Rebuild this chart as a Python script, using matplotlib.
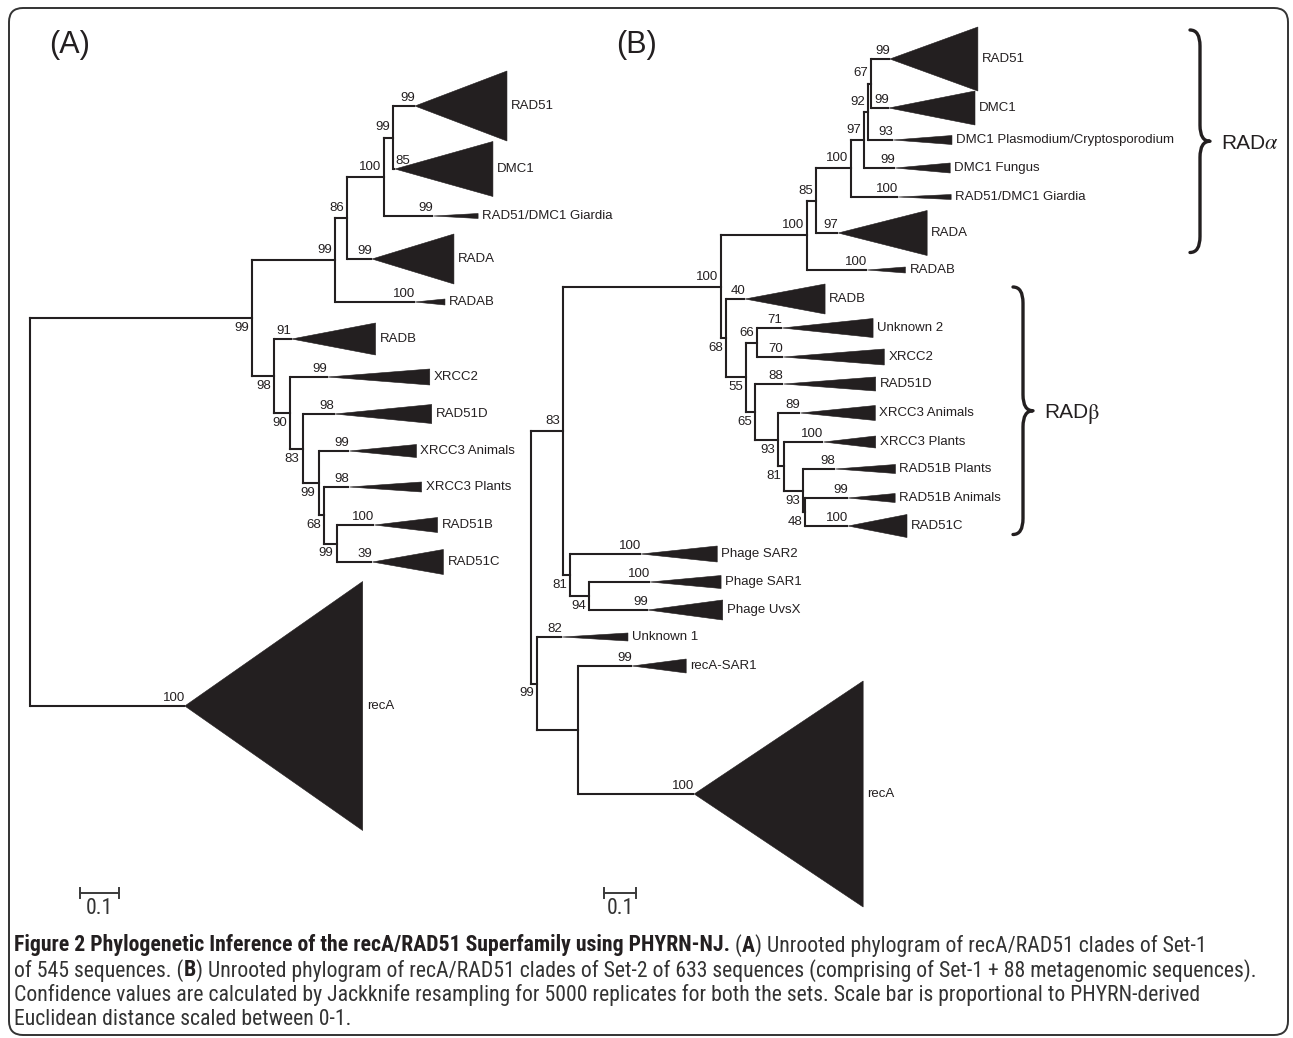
import matplotlib
matplotlib.use("Agg")
import matplotlib.pyplot as plt
from matplotlib.patches import Polygon, FancyBboxPatch, PathPatch
from matplotlib.path import Path
from matplotlib import font_manager

W, H, DPI = 1293, 1038, 100
INK = "#231f20"
TXT = "#333333"
TREE_FONT = "Liberation Sans"
FS = 9.5

# ---------------- Panel A data ----------------
A_node_id      = ["root", "n1", "n2", "n3", "n4", "n5", "n6", "n7", "n8", "n9", "n10", "n11"]
A_node_parent  = [None, "root", "n1", "n2", "n3", "n4", "n1", "n6", "n7", "n8", "n9", "n10"]
A_node_length  = [0.0, 0.569, 0.213, 0.031, 0.095, 0.023, 0.056, 0.041, 0.033, 0.041, 0.015, 0.031]
A_node_support = [None, 99, 99, 86, 100, 99, 98, 90, 83, 99, 68, 99]
A_node_side    = [None, "below", "above", "above", "above", "above",
                  "below", "below", "below", "below", "below", "below"]

A_leaf_name    = ["RAD51", "DMC1", "RAD51/DMC1 Giardia", "RADA", "RADAB", "RADB", "XRCC2",
                  "RAD51D", "XRCC3 Animals", "XRCC3 Plants", "RAD51B", "RAD51C", "recA"]
A_leaf_parent  = ["n5", "n5", "n4", "n3", "n2", "n6", "n7", "n8", "n9", "n10", "n11", "n11", "root"]
A_leaf_length  = [0.056, 0.005, 0.126, 0.064, 0.205, 0.046, 0.097, 0.082, 0.079, 0.064, 0.097, 0.092, 0.397]
A_leaf_support = [99, 85, 99, 99, 100, 91, 99, 98, 99, 98, 100, 39, 100]
A_clade_depth  = [0.236, 0.251, 0.115, 0.210, 0.077, 0.215, 0.262, 0.249, 0.172, 0.185, 0.162, 0.182, 0.456]
A_clade_spread = [35, 27.5, 2.5, 25, 3, 16, 8, 9.5, 6.5, 5, 7.5, 12.5, 124.5]
A_leaf_row     = [106, 169, 216, 259, 302, 339, 377, 414, 451, 487, 525, 562, 706]

# ---------------- Panel B data ----------------
B_node_id      = ["root", "p83", "prad", "pa100", "p85", "p100", "p97", "p92", "p67",
                  "pb68", "p55", "p66", "p65", "p93a", "p81", "p93b", "p48",
                  "pph81", "p94", "p99", "preca"]
B_node_parent  = [None, "root", "p83", "prad", "pa100", "p85", "p100", "p97", "p92",
                  "prad", "pb68", "p55", "p55", "p65", "p93a", "p81", "p93b",
                  "p83", "pph81", "root", "p99"]
B_node_length  = [0.0, 0.100, 0.494, 0.269, 0.028, 0.109, 0.041, 0.0125, 0.009,
                  0.016, 0.063, 0.034, 0.028, 0.072, 0.019, 0.059, 0.006,
                  0.022, 0.059, 0.019, 0.128]
B_node_support = [None, 83, 100, 100, 85, 100, 97, 92, 67,
                  68, 55, 66, 65, 93, 81, 93, 48,
                  81, 94, 99, None]
B_node_side    = [None, "above", "above", "above", "above", "above", "above", "above", "above",
                  "below", "below", "above", "below", "below", "below", "below", "below",
                  "below", "below", "below", None]

B_leaf_name    = ["RAD51", "DMC1", "DMC1 Plasmodium/Cryptosporodium", "DMC1 Fungus",
                  "RAD51/DMC1 Giardia", "RADA", "RADAB", "RADB", "Unknown 2", "XRCC2",
                  "RAD51D", "XRCC3 Animals", "XRCC3 Plants", "RAD51B Plants", "RAD51B Animals",
                  "RAD51C", "Phage SAR2", "Phage SAR1", "Phage UvsX", "Unknown 1", "recA-SAR1", "recA"]
B_leaf_parent  = ["p67", "p67", "p92", "p97", "p100", "p85", "pa100", "pb68", "p66", "p66",
                  "p65", "p93a", "p81", "p93b", "p48", "p48", "pph81", "p94", "p94", "p99",
                  "preca", "preca"]
B_leaf_length  = [0.059, 0.056, 0.078, 0.097, 0.147, 0.069, 0.188, 0.059, 0.078, 0.081,
                  0.088, 0.069, 0.122, 0.100, 0.134, 0.134, 0.222, 0.191, 0.184, 0.078,
                  0.169, 0.363]
B_leaf_support = [99, 99, 93, 99, 100, 97, 100, 40, 71, 70, 88, 89, 100, 98, 99, 100,
                  100, 100, 99, 82, 99, 100]
B_clade_depth  = [0.275, 0.269, 0.184, 0.172, 0.166, 0.278, 0.119, 0.250, 0.284, 0.316,
                  0.288, 0.234, 0.163, 0.188, 0.147, 0.184, 0.238, 0.222, 0.234, 0.206,
                  0.169, 0.528]
B_clade_spread = [32, 17, 4.5, 5, 2.5, 22.5, 3, 15, 9.5, 8, 7, 7.5, 6, 4.5, 4.5, 11.5,
                  8, 6.5, 10, 4, 7, 113]
B_leaf_row     = [59, 108, 140, 168, 197, 233, 270, 299, 328, 357, 384, 413, 442, 469,
                  498, 526, 554, 582, 610, 637, 666, 794]

# groups marked with braces in panel B
B_group_label = ["RAD", "RAD"]
B_group_greek = ["$\\alpha$", "$\\mathrm{\\beta}$"]
B_group_first = ["RAD51", "RADB"]
B_group_last  = ["RADA", "RAD51C"]

SCALE_BAR = 0.1

CAPTION = [
    [("Figure 2 Phylogenetic Inference of the recA/RAD51 Superfamily using PHYRN-NJ.", True),
     (" (", False), ("A", True),
     (") Unrooted phylogram of recA/RAD51 clades of Set-1", False)],
    [("of 545 sequences. (", False), ("B", True),
     (") Unrooted phylogram of recA/RAD51 clades of Set-2 of 633 sequences (comprising of Set-1 + 88 metagenomic sequences).", False)],
    [("Confidence values are calculated by Jackknife resampling for 5000 replicates for both the sets. Scale bar is proportional to PHYRN-derived", False)],
    [("Euclidean distance scaled between 0-1.", False)],
]

# ---------------- drawing ----------------
plt.rcParams["mathtext.fontset"] = "stix"
fig = plt.figure(figsize=(W / DPI, H / DPI), dpi=DPI)
fig.patch.set_facecolor("white")

ax0 = fig.add_axes([0, 0, 1, 1])
ax0.set_xlim(0, W)
ax0.set_ylim(H, 0)
ax0.set_axis_off()
renderer = fig.canvas.get_renderer()


def draw_panel(origin_px, scale_px, node_id, node_parent, node_length, node_support, node_side,
               leaf_name, leaf_parent, leaf_length, leaf_support, clade_depth, clade_spread,
               leaf_row, bar_px, bar_row):
    ax = fig.add_axes([0, 0, 1, 1])
    ax.set_xlim(-origin_px / scale_px, (W - origin_px) / scale_px)
    ax.set_ylim(H, 0)
    ax.set_axis_off()
    ax.patch.set_alpha(0)
    lw = 1.5
    xpos = {}
    for nid, par, ln in zip(node_id, node_parent, node_length):
        xpos[nid] = 0.0 if par is None else xpos[par] + ln
    kids = {nid: [] for nid in node_id}
    for par, row in zip(leaf_parent, leaf_row):
        kids[par].append(row)
    ypos = {}
    for nid in reversed(node_id):
        ys = kids[nid]
        ypos[nid] = (min(ys) + max(ys)) / 2.0
        par = node_parent[node_id.index(nid)]
        if par is not None:
            kids[par].append(ypos[nid])
    for nid, par in zip(node_id, node_parent):
        ys = kids[nid]
        ax.plot([xpos[nid]] * 2, [min(ys), max(ys)], color=INK, lw=lw,
                solid_capstyle="projecting")
        if par is not None:
            ax.plot([xpos[par], xpos[nid]], [ypos[nid]] * 2, color=INK, lw=lw,
                    solid_capstyle="projecting")
    for nid, sup, side in zip(node_id, node_support, node_side):
        if sup is None:
            continue
        dy = 10 if side == "above" else -10
        ax.annotate(str(sup), (xpos[nid], ypos[nid]), xytext=(-3, dy),
                    textcoords="offset pixels", ha="right", va="center",
                    fontsize=FS, family=TREE_FONT, color=INK)
    extent = {}
    for name, par, ln, sup, dep, spr, row in zip(leaf_name, leaf_parent, leaf_length,
                                                  leaf_support, clade_depth, clade_spread,
                                                  leaf_row):
        xa = xpos[par] + ln
        xt = xa + dep
        ax.plot([xpos[par], xa], [row, row], color=INK, lw=lw, solid_capstyle="butt")
        ax.add_patch(Polygon([(xa, row), (xt, row - spr), (xt, row + spr)], closed=True,
                             facecolor=INK, edgecolor=INK, lw=0.4))
        ax.annotate(name, (xt, row), xytext=(4, 0), textcoords="offset pixels",
                    ha="left", va="center", fontsize=FS, family=TREE_FONT, color=INK)
        if ln * scale_px >= 16:
            ax.annotate(str(sup), (xa, row), xytext=(0, 8), textcoords="offset pixels",
                        ha="right", va="center", fontsize=FS, family=TREE_FONT, color=INK)
        else:
            ax.annotate(str(sup), (xpos[par], row), xytext=(2, 8), textcoords="offset pixels",
                        ha="left", va="center", fontsize=FS, family=TREE_FONT, color=INK)
        extent[name] = (row - spr, row + spr)
    xb = (bar_px - origin_px) / scale_px
    ax.plot([xb, xb + SCALE_BAR], [bar_row, bar_row], color="#3a3a3a", lw=1.4)
    for xx in (xb, xb + SCALE_BAR):
        ax.plot([xx, xx], [bar_row - 5, bar_row + 5], color="#3a3a3a", lw=1.4)
    return ax, xb, extent


axA, xbA, extA = draw_panel(30, 390, A_node_id, A_node_parent, A_node_length, A_node_support,
                            A_node_side, A_leaf_name, A_leaf_parent, A_leaf_length,
                            A_leaf_support, A_clade_depth, A_clade_spread, A_leaf_row, 80, 893)
axB, xbB, extB = draw_panel(531, 320, B_node_id, B_node_parent, B_node_length, B_node_support,
                            B_node_side, B_leaf_name, B_leaf_parent, B_leaf_length,
                            B_leaf_support, B_clade_depth, B_clade_spread, B_leaf_row, 604, 893)

ax0.text(70, 45, "(A)", fontsize=22, ha="center", va="center", family=TREE_FONT, color=INK)
ax0.text(637, 45, "(B)", fontsize=22, ha="center", va="center", family=TREE_FONT, color=INK)


def brace(x, y0, y1):
    ym = (y0 + y1) / 2.0
    d, r = 10, 16
    verts = [(x, y0), (x + d, y0), (x + d, y0 + r),
             (x + d, ym - r),
             (x + d, ym), (x + 2 * d, ym),
             (x + d, ym), (x + d, ym + r),
             (x + d, y1 - r),
             (x + d, y1), (x, y1)]
    codes = [Path.MOVETO, Path.CURVE3, Path.CURVE3, Path.LINETO, Path.CURVE3, Path.CURVE3,
             Path.CURVE3, Path.CURVE3, Path.LINETO, Path.CURVE3, Path.CURVE3]
    ax0.add_patch(PathPatch(Path(verts, codes), fc="none", ec=INK, lw=2.4,
                            capstyle="round", joinstyle="round"))
    return ym


brace_x = [1190, 1013]
for lab, grk, first, last, bx in zip(B_group_label, B_group_greek, B_group_first,
                                     B_group_last, brace_x):
    y0 = extB[first][0] + 3
    y1 = extB[last][1] - 3
    ym = brace(bx, y0, y1)
    t = ax0.text(bx + 31, ym, lab, fontsize=15, ha="left", va="center_baseline",
                 family=TREE_FONT, color=INK)
    wl = t.get_window_extent(renderer).width
    ax0.text(bx + 31 + wl - 1, ym, grk, fontsize=16, ha="left", va="center_baseline", color=INK)

ax0.add_patch(FancyBboxPatch((9, 8), 1279, 1027, boxstyle="round,pad=0,rounding_size=14",
                             fc="none", ec="#333333", lw=1.4))

# ---------------- caption ----------------
avail = {f.name for f in font_manager.fontManager.ttflist}
cap_font = next((f for f in ["Liberation Sans Narrow", "Roboto Condensed", "Open Sans Condensed",
                             "Noto Sans Condensed", "Lato", "Open Sans"] if f in avail),
                "DejaVu Sans")


def width(s, fs, bold=False):
    t = ax0.text(0, 0, s, fontsize=fs, family=cap_font,
                 fontweight="bold" if bold else "normal")
    w = t.get_window_extent(renderer).width
    t.remove()
    return w


def advance(s, fs, bold=False):
    return width("|" + s + "|", fs, bold) - width("||", fs, bold)


cap_fs = 12 * 1188.0 / width(CAPTION[2][0][0], 12)

axA.text(xbA + SCALE_BAR / 2, 908, "0.1", fontsize=cap_fs, ha="center", va="center",
         family=cap_font, color=TXT)
axB.text(xbB + SCALE_BAR / 2, 908, "0.1", fontsize=cap_fs, ha="center", va="center",
         family=cap_font, color=TXT)

line_rows = [943, 968, 993, 1017]
for segs, yrow in zip(CAPTION, line_rows):
    x = 14.0
    for txt, bold in segs:
        ax0.text(x, yrow, txt, fontsize=cap_fs, family=cap_font,
                 fontweight="bold" if bold else "normal",
                 color=INK if bold else TXT, ha="left", va="center_baseline")
        x += advance(txt, cap_fs, bold)

fig.savefig("out.png", dpi=DPI, facecolor="white")
